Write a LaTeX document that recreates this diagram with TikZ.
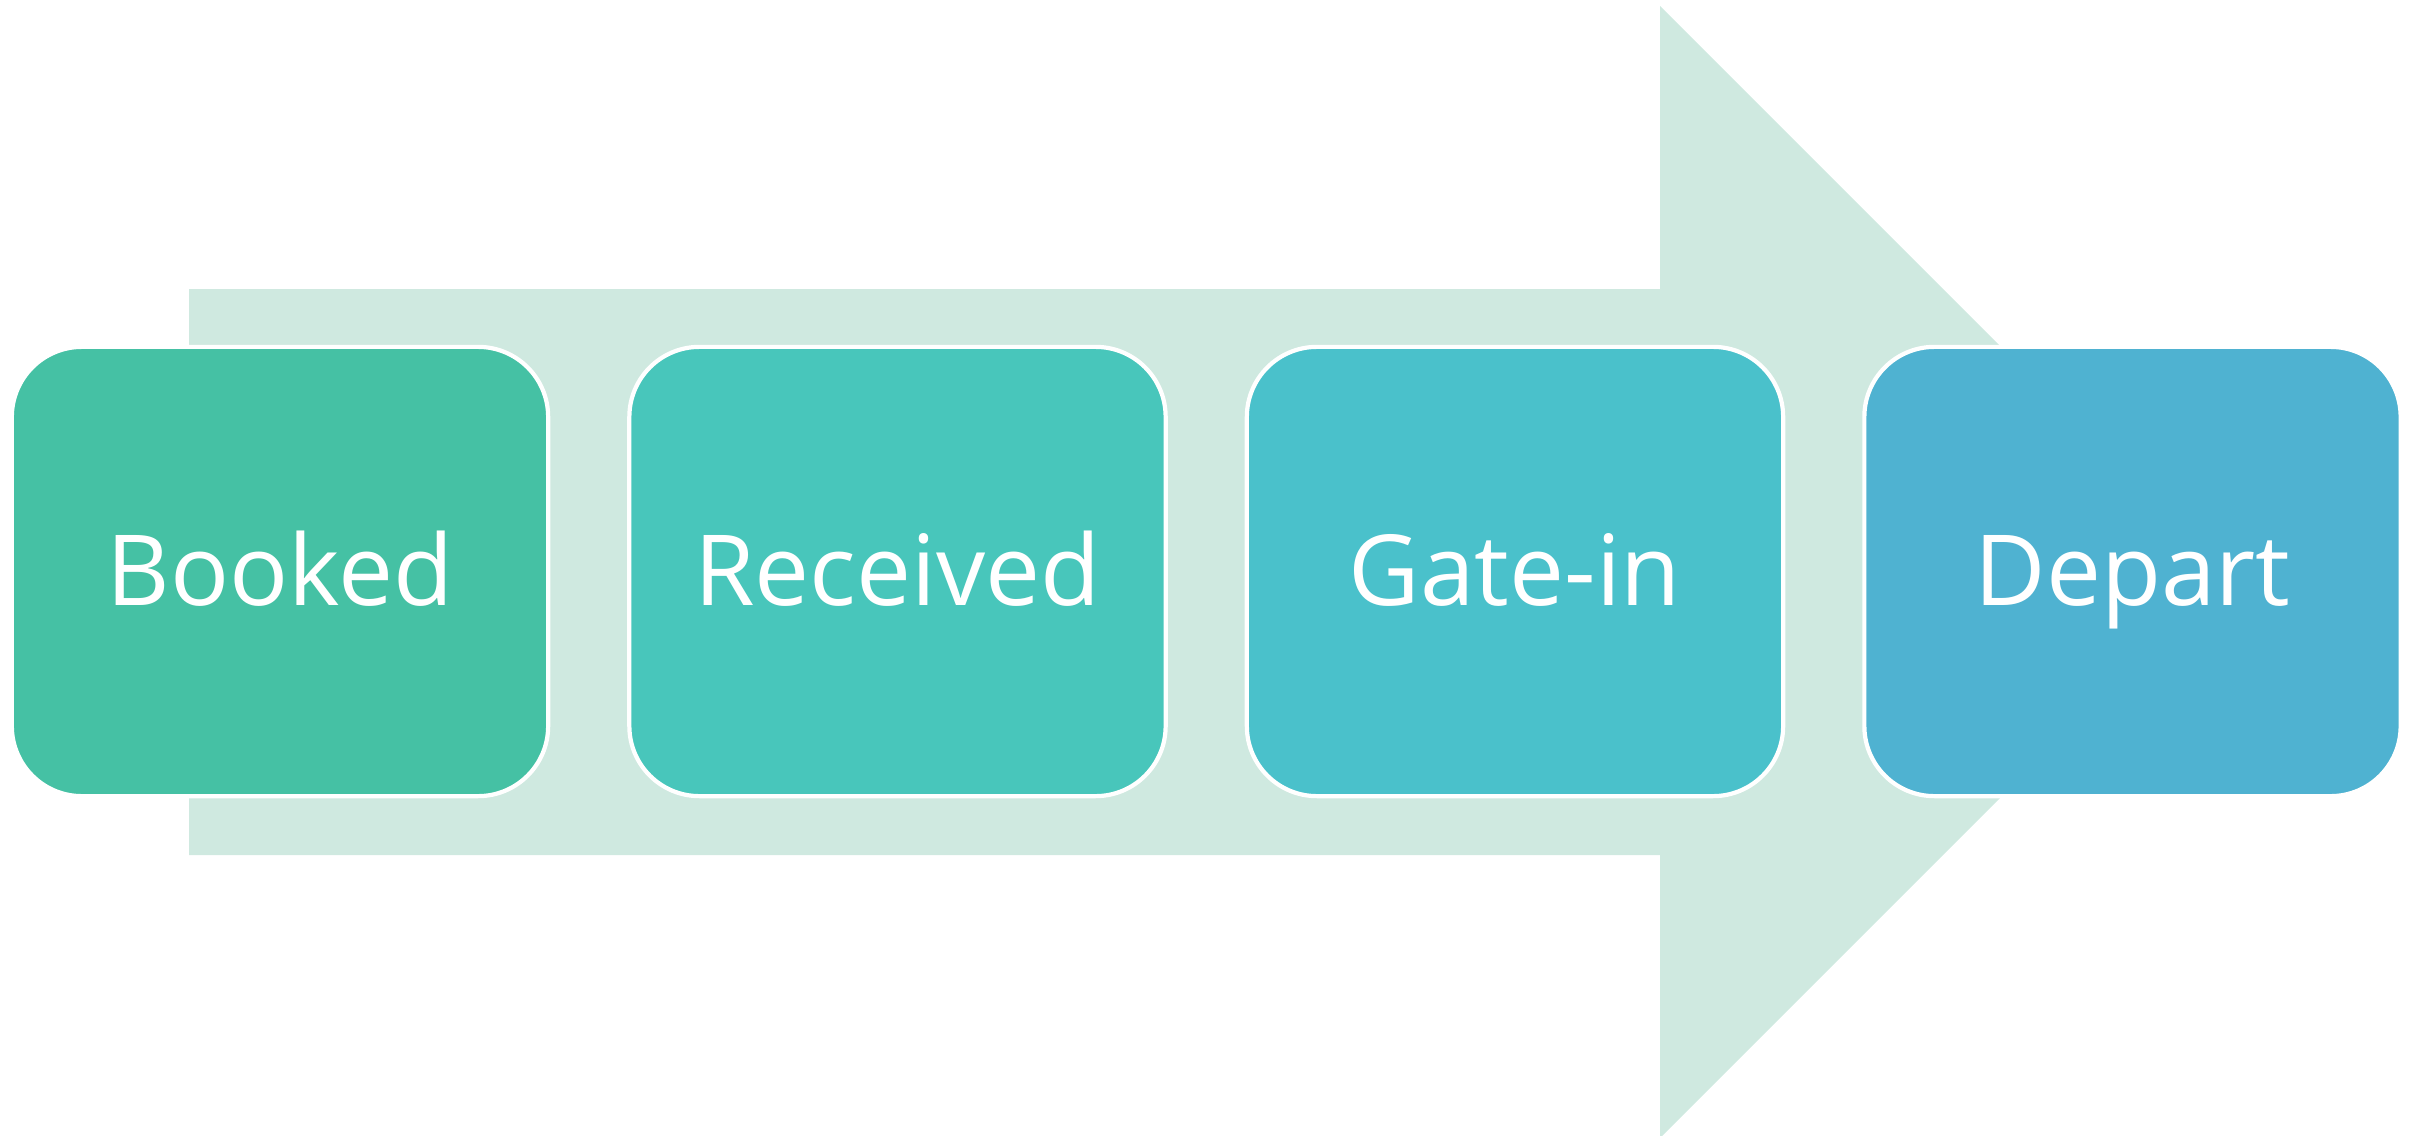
\documentclass[tikz,border=0pt]{standalone}
\usepackage{fontspec}
\setmainfont{Open Sans}
\definecolor{arrowc}{HTML}{CFE9E0}
\definecolor{cA}{HTML}{45C1A4}
\definecolor{cB}{HTML}{48C6BB}
\definecolor{cC}{HTML}{4AC1CB}
\definecolor{cD}{HTML}{4FB2D1}
\tikzset{
  stagebox/.style={draw=white, line width=1.2pt, rounded corners=0.7cm,
    minimum width=5.36cm, minimum height=4.49cm, inner sep=0pt,
    text=white, text height=0.67cm, text depth=0cm,
    font=\fontsize{27.9pt}{33pt}\selectfont},
}
\begin{document}
\begin{tikzpicture}[x=0.01cm, y=-0.01cm]
\useasboundingbox (0,0) rectangle (2423,1136);
\fill[arrowc] (189,289) -- (1660,289) -- (1660,6) -- (2226,572) -- (1660,1138) -- (1660,855) -- (189,855) -- cycle;
\node[stagebox, fill=cA] (booked) at (280,571.5) {Booked};
\node[stagebox, fill=cB] (received) at (897.5,571.5) {Received};
\node[stagebox, fill=cC] (gatein) at (1515,571.5) {Gate-in};
\node[stagebox, fill=cD] (depart) at (2132.5,571.5) {Depart};
\end{tikzpicture}
\end{document}
